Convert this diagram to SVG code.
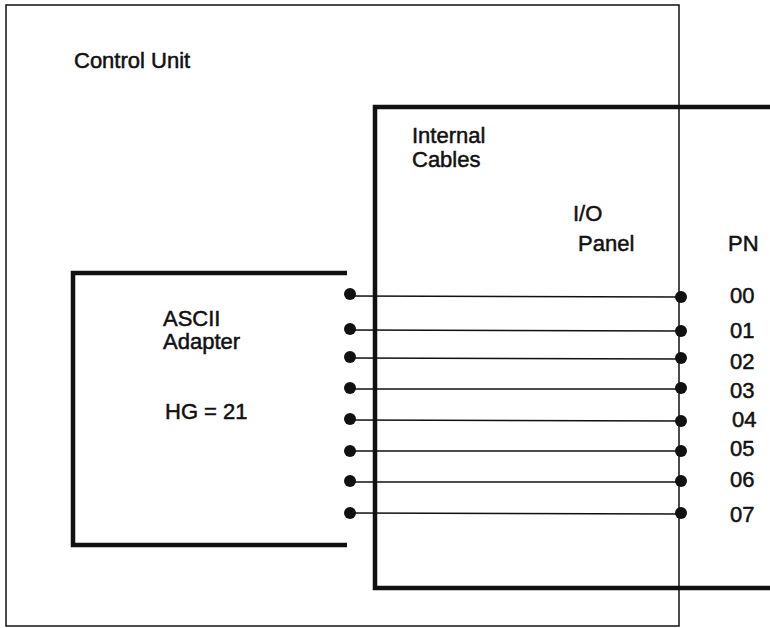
<svg xmlns="http://www.w3.org/2000/svg" width="770" height="628" viewBox="0 0 770 628">
<style>
.t{font-family:"Liberation Sans",Arial,sans-serif;font-size:22px;fill:#111;stroke:#111;stroke-width:0.5}
.thin{fill:none;stroke:#111;stroke-width:1.5}
.thick{fill:none;stroke:#111;stroke-width:4.5}
.wire{stroke:#111;stroke-width:1.5}
.dot{fill:#111}
</style>
<rect width="770" height="628" fill="#fff"/>
<g id="control-unit">
<rect class="thin" x="6" y="5" width="673" height="621"/>
<text class="t" x="74" y="68">Control Unit</text>
</g>
<g id="io-panel">
<path class="thick" d="M770,107 H375 V588 H770"/>
<text class="t" x="412" y="143">Internal</text>
<text class="t" x="412" y="167">Cables</text>
<text class="t" x="573" y="221">I/O</text>
<text class="t" x="578" y="251">Panel</text>
</g>
<g id="ascii-adapter">
<path class="thick" d="M347,273 H73 V545 H347"/>
<text class="t" x="163" y="326">ASCII</text>
<text class="t" x="163" y="349">Adapter</text>
<text class="t" x="165" y="419">HG = 21</text>
</g>
<g id="pn-labels">
<text class="t" x="728" y="251">PN</text>
<text class="t" x="730" y="303">00</text>
<text class="t" x="730" y="338">01</text>
<text class="t" x="730" y="369">02</text>
<text class="t" x="730" y="398">03</text>
<text class="t" x="732" y="427">04</text>
<text class="t" x="730" y="456">05</text>
<text class="t" x="730" y="487">06</text>
<text class="t" x="730" y="522">07</text>
</g>
<g id="connectors">
<line class="wire" x1="350" y1="296" x2="681" y2="297"/>
<line class="wire" x1="350" y1="330" x2="681" y2="331"/>
<line class="wire" x1="350" y1="358" x2="681" y2="359"/>
<line class="wire" x1="350" y1="389" x2="681" y2="389"/>
<line class="wire" x1="350" y1="420" x2="681" y2="421"/>
<line class="wire" x1="350" y1="451" x2="681" y2="451"/>
<line class="wire" x1="350" y1="482" x2="681" y2="482"/>
<line class="wire" x1="350" y1="513" x2="681" y2="514"/>
<circle class="dot" cx="350" cy="294" r="6"/>
<circle class="dot" cx="350" cy="329" r="6"/>
<circle class="dot" cx="350" cy="357" r="6"/>
<circle class="dot" cx="350" cy="388" r="6"/>
<circle class="dot" cx="350" cy="419" r="6"/>
<circle class="dot" cx="350" cy="451" r="6"/>
<circle class="dot" cx="350" cy="481" r="6"/>
<circle class="dot" cx="350" cy="513" r="6"/>
<circle class="dot" cx="681" cy="297" r="6"/>
<circle class="dot" cx="681" cy="331" r="6"/>
<circle class="dot" cx="681" cy="358" r="6"/>
<circle class="dot" cx="681" cy="388" r="6"/>
<circle class="dot" cx="681" cy="421" r="6"/>
<circle class="dot" cx="681" cy="451" r="6"/>
<circle class="dot" cx="681" cy="481" r="6"/>
<circle class="dot" cx="681" cy="513" r="6"/>
</g>
</svg>
